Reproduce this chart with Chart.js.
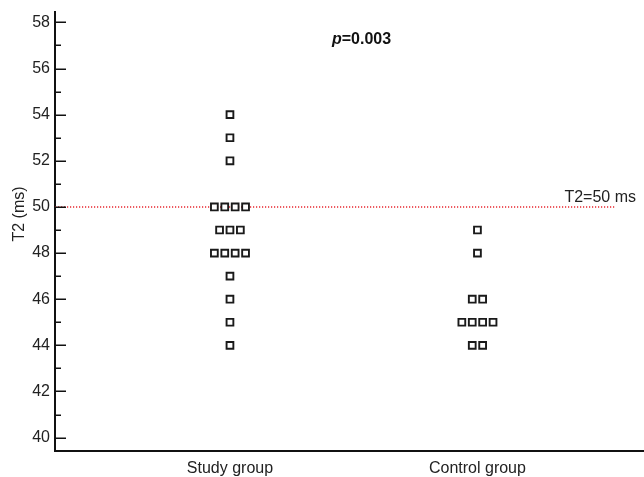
<!DOCTYPE html>
<html>
<head>
<meta charset="utf-8">
<script src="https://cdn.jsdelivr.net/npm/chart.js@4.4.1/dist/chart.umd.min.js"></script>
<style>
  html, body { margin: 0; padding: 0; background: #ffffff; }
  canvas { display: block; }
</style>
</head>
<body>
<canvas id="chart" width="644" height="477"></canvas>
<script>
// Groups on the horizontal axis
const groups = ['Study group', 'Control group'];

// Individual T2 relaxation times (ms)
const studyT2 = [54, 53, 52, 50, 50, 50, 50, 49, 49, 49, 48, 48, 48, 48, 47, 46, 45, 44];
const controlT2 = [49, 48, 46, 46, 45, 45, 45, 45, 44, 44];

// Vertical axis labels
const yTicks = [40, 42, 44, 46, 48, 50, 52, 54, 56, 58];
const yMinorTicks = [41, 43, 45, 47, 49, 51, 53, 55, 57];

// Reference threshold and annotations
const cutoffT2 = 50;
const cutoffLabel = 'T2=50 ms';
const pValue = '0.003';
const yTitle = 'T2 (ms)';

const FONT = '"Liberation Sans", Arial, Helvetica, sans-serif';
const X_MIN = 0.293, X_MAX = 2.673;
const CUTOFF_END = 2.556;
const DOT_STEP = 0.042;

// Spread tied values side by side around the group position
function dotColumn(values, pos) {
  const counts = {};
  values.forEach(v => { counts[v] = (counts[v] || 0) + 1; });
  const seen = {};
  return values.map(v => {
    const i = seen[v] = (seen[v] === undefined ? 0 : seen[v] + 1);
    return { x: pos + (i - (counts[v] - 1) / 2) * DOT_STEP, y: v };
  });
}

const markerStyle = {
  pointStyle: 'rect',
  pointRadius: 4.8,
  pointBorderWidth: 1.9,
  pointBorderColor: '#1a1a1a',
  pointBackgroundColor: '#ffffff',
  showLine: false
};

// keep the plot area flush with the axis boxes
function noScalePadding(s) {
  s.paddingLeft = 0; s.paddingRight = 0; s.paddingTop = 0; s.paddingBottom = 0;
}

const annotationPlugin = {
  id: 'annotations',
  afterDraw(chart) {
    const ctx = chart.ctx;
    const y = chart.scales.y;
    const area = chart.chartArea;
    ctx.save();

    // inward tick marks on the value axis
    ctx.strokeStyle = '#111111';
    ctx.lineWidth = 1.5;
    yTicks.concat(yMinorTicks).forEach(v => {
      const py = Math.round(y.getPixelForValue(v)) + 0.25;
      const len = yTicks.includes(v) ? 11 : 6;
      ctx.beginPath();
      ctx.moveTo(area.left, py);
      ctx.lineTo(area.left + len, py);
      ctx.stroke();
    });

    // axis title
    ctx.fillStyle = '#222222';
    ctx.font = '16px ' + FONT;
    ctx.textAlign = 'center';
    ctx.textBaseline = 'middle';
    ctx.save();
    ctx.translate(20, 214);
    ctx.rotate(-Math.PI / 2);
    ctx.fillText(yTitle, 0, 0);
    ctx.restore();

    // threshold label
    ctx.textAlign = 'right';
    ctx.fillText(cutoffLabel, 636, y.getPixelForValue(cutoffT2) - 9);

    // p value
    ctx.textAlign = 'left';
    ctx.fillStyle = '#111111';
    ctx.font = 'italic bold 16px ' + FONT;
    const px = 332;
    ctx.fillText('p', px, 40);
    const w = ctx.measureText('p').width;
    ctx.font = 'bold 16px ' + FONT;
    ctx.fillText('=' + pValue, px + w, 40);

    ctx.restore();
  }
};

new Chart(document.getElementById('chart'), {
  type: 'scatter',
  data: {
    datasets: [
      Object.assign({ label: groups[0], data: dotColumn(studyT2, 1) }, markerStyle),
      Object.assign({ label: groups[1], data: dotColumn(controlT2, 2) }, markerStyle),
      {
        type: 'line',
        label: cutoffLabel,
        data: [{ x: X_MIN, y: cutoffT2 }, { x: CUTOFF_END, y: cutoffT2 }],
        borderColor: '#e8262e',
        borderWidth: 1.6,
        borderDash: [1.2, 1.8],
        pointRadius: 0,
        fill: false
      }
    ]
  },
  options: {
    responsive: false,
    animation: false,
    devicePixelRatio: 1,
    layout: { autoPadding: false, padding: { top: 12, right: 0, left: 0, bottom: 0 } },
    plugins: { legend: { display: false }, tooltip: { enabled: false } },
    scales: {
      x: {
        type: 'linear',
        min: X_MIN,
        max: X_MAX,
        afterBuildTicks: s => { s.ticks = groups.map((g, i) => ({ value: i + 1 })); },
        afterFit: s => { s.height = 26; noScalePadding(s); },
        grid: { display: false, drawTicks: false },
        border: { display: true, color: '#111111', width: 2 },
        ticks: {
          autoSkip: false,
          maxRotation: 0,
          padding: 8,
          color: '#222222',
          font: { family: FONT, size: 16 },
          callback: v => groups[v - 1]
        }
      },
      y: {
        type: 'linear',
        min: 39.42,
        max: 58.45,
        afterBuildTicks: s => { s.ticks = yTicks.map(v => ({ value: v })); },
        afterFit: s => { s.width = 55; noScalePadding(s); },
        grid: { display: false, drawTicks: false },
        border: { display: true, color: '#111111', width: 2 },
        ticks: {
          padding: 5,
          color: '#222222',
          font: { family: FONT, size: 16 }
        }
      }
    }
  },
  plugins: [annotationPlugin]
});
</script>
</body>
</html>
